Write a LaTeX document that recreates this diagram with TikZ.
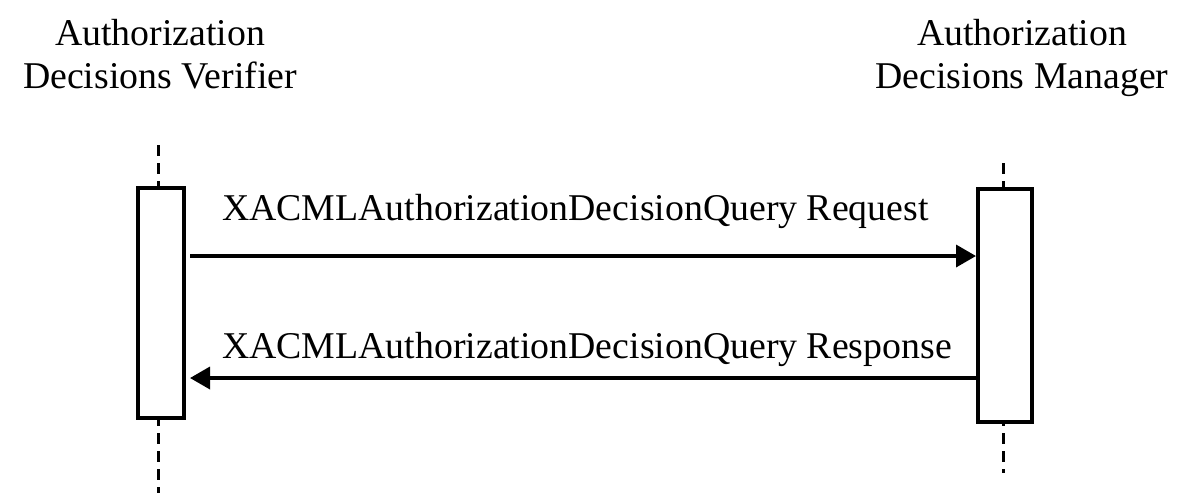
\documentclass[tikz,border=0pt]{standalone}
\usepackage{fontspec}
\setmainfont{Liberation Serif}
\usetikzlibrary{arrows.meta}
\begin{document}
\begin{tikzpicture}[x=1pt,y=-1pt,
  lbl/.style={font=\fontsize{37.8}{43}\selectfont, inner sep=0pt, align=center},
  actbox/.style={draw, line width=4pt, fill=white},
  life/.style={line width=3pt, dash pattern=on 11pt off 7pt},
  msg/.style={line width=3.6pt, -{Triangle[length=20pt,width=22pt]}}]
\useasboundingbox (0,0) rectangle (1185,499);
% actor labels
\node[lbl, anchor=base] (lv1) at (160,45) {Authorization};
\node[lbl, anchor=base] (lv2) at (160,88) {Decisions Verifier};
\node[lbl, anchor=base] (lm1) at (1022,45) {Authorization};
\node[lbl, anchor=base] (lm2) at (1022,88) {Decisions Manager};
% lifeline coordinates
\coordinate (vtop) at (158,145);
\coordinate (vbot) at (158,493);
\coordinate (mtop) at (1003,163);
\coordinate (mbot) at (1003,473);
\draw[life] (vtop) -- (vbot);
\draw[life] (mtop) -- (mbot);
% activation boxes
\node[actbox, minimum width=46pt, minimum height=230pt, inner sep=0pt] (vbox) at (161,303) {};
\node[actbox, minimum width=54pt, minimum height=233pt, inner sep=0pt] (mbox) at (1005,305.5) {};
% messages
\draw[msg] ([xshift=4pt]vbox.east |- 0,256) -- (mbox.west |- 0,256);
\draw[msg] (mbox.west |- 0,378) -- ([xshift=4pt]vbox.east |- 0,378);
\node[lbl, anchor=base west] (req) at (222,220) {XACMLAuthorizationDecisionQuery Request};
\node[lbl, anchor=base west] (resp) at (222,358) {XACMLAuthorizationDecisionQuery Response};
\end{tikzpicture}
\end{document}
